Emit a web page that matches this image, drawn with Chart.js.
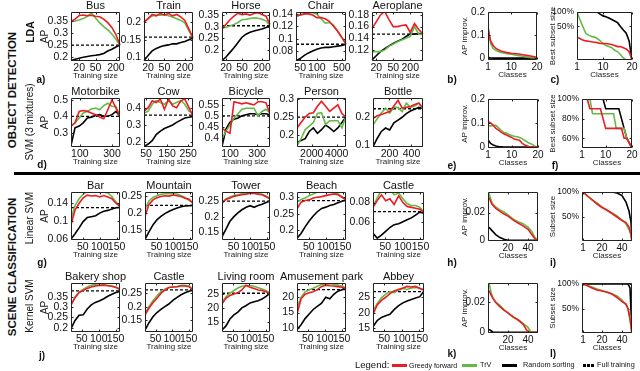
<!DOCTYPE html>
<html><head><meta charset="utf-8"><title>Subset selection results</title>
<script src="https://cdn.jsdelivr.net/npm/chart.js"></script>
<style>
html,body{margin:0;padding:0;background:#fff;}
body{width:640px;height:371px;position:relative;overflow:hidden;font-family:"Liberation Sans",Arial,sans-serif;color:#111;}
canvas{position:absolute;}
.t{position:absolute;white-space:nowrap;line-height:1;transform:translate(-50%,-50%);}
.r{transform:translate(-50%,-50%) rotate(-90deg);}
.lg{position:absolute;white-space:nowrap;line-height:1;transform:translateY(-50%);}
.sw{position:absolute;height:3px;}
</style></head><body>
<script>
// ---------------- DATA ----------------
// Row a) LDA (x = training size, category positions)
const busSizes = [15,17,20,24,30,38,50,65,85,110,150,200,230];
const busXTicks = [20,50,200];
const busYTicks = [0.2,0.25,0.3,0.35];
const busGreedy = [0.35,0.36,0.375,0.377,0.374,0.376,0.372,0.37,0.36,0.345,0.325,0.295,0.25];
const busTrV = [0.35,0.352,0.356,0.362,0.372,0.385,0.365,0.345,0.328,0.315,0.297,0.275,0.25];
const busRandom = [0.185,0.19,0.195,0.199,0.202,0.205,0.207,0.21,0.215,0.225,0.233,0.242,0.25];
const busFull = 0.25;

const trainSizes = [18,20,25,32,40,50,65,85,110,150,200,230,260];
const trainXTicks = [20,50,200];
const trainYTicks = [0.1,0.15,0.2];
const trainGreedy = [0.2,0.21,0.222,0.218,0.225,0.22,0.225,0.218,0.222,0.215,0.205,0.18,0.155];
const trainTrV = [0.2,0.21,0.218,0.22,0.22,0.222,0.218,0.215,0.21,0.205,0.198,0.175,0.155];
const trainRandom = [0.09,0.105,0.118,0.125,0.13,0.133,0.135,0.138,0.138,0.142,0.145,0.15,0.155];
const trainFull = 0.157;

const horseSizes = [18,20,25,32,40,50,65,85,110,150,200,230,260];
const horseXTicks = [20,50,200];
const horseYTicks = [0.2,0.25,0.3,0.35];
const horseGreedy = [0.293,0.31,0.33,0.345,0.358,0.352,0.355,0.35,0.357,0.36,0.352,0.345,0.31];
const horseTrV = [0.293,0.298,0.303,0.31,0.318,0.33,0.332,0.335,0.338,0.336,0.332,0.325,0.305];
const horseRandom = [0.155,0.17,0.19,0.21,0.232,0.255,0.268,0.276,0.282,0.286,0.29,0.297,0.305];
const horseFull = 0.304;

const chairSizes = [40,50,60,70,85,100,130,170,220,290,380,500,620];
const chairXTicks = [50,100,500];
const chairYTicks = [0.08,0.1,0.12,0.14];
const chairGreedy = [0.136,0.138,0.14,0.14,0.138,0.134,0.134,0.132,0.128,0.12,0.112,0.102,0.091];
const chairTrV = [0.136,0.138,0.14,0.142,0.142,0.14,0.132,0.125,0.126,0.122,0.112,0.102,0.091];
const chairRandom = [0.064,0.068,0.073,0.077,0.08,0.083,0.085,0.086,0.086,0.087,0.088,0.089,0.091];
const chairFull = 0.091;

const aeroSizes = [17,20,24,30,38,50,65,85,130,200,235,265,300];
const aeroXTicks = [20,50,200];
const aeroYTicks = [0.12,0.14,0.16,0.18];
const aeroGreedy = [0.157,0.168,0.18,0.186,0.172,0.16,0.16,0.162,0.163,0.15,0.165,0.155,0.147];
const aeroTrV = [0.117,0.117,0.117,0.12,0.126,0.13,0.134,0.137,0.14,0.143,0.16,0.147,0.146];
const aeroRandom = [0.103,0.11,0.117,0.122,0.127,0.131,0.135,0.138,0.143,0.147,0.147,0.148,0.147];
const aeroFull = 0.147;

// Row d) SVM (3 mixtures)
const motoSizes = [45,70,96,121,147,172,198,223,249,274,300,325,350];
const motoXTicks = [100,300];
const motoYTicks = [0.3,0.4,0.5];
const motoGreedy = [0.34,0.36,0.43,0.435,0.43,0.42,0.41,0.395,0.385,0.44,0.5,0.45,0.4];
const motoTrV = [0.34,0.36,0.39,0.42,0.43,0.445,0.45,0.44,0.465,0.48,0.46,0.46,0.4];
const motoRandom = [0.22,0.33,0.34,0.36,0.39,0.395,0.405,0.41,0.4,0.4,0.41,0.43,0.4];
const motoFull = 0.4;

const cowSizes = [40,60,79,98,118,137,157,176,195,215,234,254,273];
const cowXTicks = [50,150,250];
const cowYTicks = [0.2,0.3,0.4];
const cowGreedy = [0.38,0.4,0.44,0.43,0.45,0.39,0.45,0.41,0.4,0.44,0.45,0.4,0.35];
const cowTrV = [0.37,0.38,0.42,0.44,0.43,0.42,0.44,0.42,0.43,0.44,0.42,0.38,0.37];
const cowRandom = [0.176,0.19,0.21,0.245,0.265,0.28,0.29,0.3,0.315,0.328,0.34,0.345,0.35];
const cowFull = 0.357;

const bicycleSizes = [40,70,99,129,159,188,218,248,277,307,337,366,396];
const bicycleXTicks = [100,300];
const bicycleYTicks = [0.4,0.45,0.5,0.55];
const bicycleGreedy = [0.443,0.43,0.42,0.565,0.56,0.555,0.56,0.555,0.55,0.565,0.565,0.56,0.51];
const bicycleTrV = [0.397,0.43,0.458,0.49,0.51,0.53,0.535,0.535,0.535,0.5,0.52,0.53,0.515];
const bicycleRandom = [0.36,0.44,0.47,0.485,0.49,0.5,0.505,0.51,0.51,0.505,0.51,0.51,0.505];
const bicycleFull = 0.5;

const personSizes = [820,1147,1473,1800,2127,2453,2780,3107,3433,3760,4087,4413,4740];
const personXTicks = [2000,4000];
const personYTicks = [0.2,0.25,0.3];
const personGreedy = [0.22,0.235,0.25,0.26,0.262,0.28,0.294,0.28,0.266,0.275,0.284,0.26,0.25];
const personTrV = [0.17,0.19,0.215,0.225,0.235,0.26,0.262,0.23,0.24,0.24,0.24,0.22,0.252];
const personRandom = [0.18,0.185,0.19,0.21,0.22,0.205,0.215,0.228,0.22,0.21,0.22,0.235,0.25];
const personFull = 0.25;

const bottleSizes = [50,88,126,164,202,240,278,315,353,391,429,467,505];
const bottleXTicks = [200,400];
const bottleYTicks = [0.1,0.2];
const bottleGreedy = [0.196,0.205,0.21,0.215,0.22,0.24,0.26,0.232,0.235,0.238,0.245,0.25,0.232];
const bottleTrV = [0.172,0.195,0.215,0.232,0.215,0.235,0.235,0.22,0.25,0.235,0.24,0.25,0.232];
const bottleRandom = [0.096,0.125,0.15,0.162,0.155,0.18,0.19,0.2,0.213,0.222,0.228,0.235,0.232];
const bottleFull = 0.23;

// Row g) Linear SVM
const linearSizes = [15,27,39,51,63,75,88,100,112,124,136,148,160];
const sceneXTicks = [50,100,150];
const barYTicks = [0.06,0.1,0.14];
const barGreedy = [0.092,0.125,0.14,0.152,0.158,0.156,0.157,0.154,0.157,0.154,0.15,0.14,0.133];
const barTrV = [0.105,0.135,0.15,0.16,0.166,0.168,0.166,0.164,0.165,0.163,0.155,0.143,0.133];
const barRandom = [0.06,0.072,0.085,0.099,0.108,0.11,0.112,0.118,0.122,0.124,0.127,0.13,0.131];
const barFull = 0.13;

const mountainYTicks = [0.15,0.2,0.25];
const mountainGreedy = [0.19,0.225,0.238,0.244,0.248,0.25,0.249,0.252,0.25,0.248,0.243,0.24,0.228];
const mountainTrV = [0.21,0.235,0.245,0.25,0.254,0.256,0.257,0.256,0.255,0.25,0.245,0.237,0.228];
const mountainRandom = [0.123,0.145,0.165,0.18,0.19,0.198,0.205,0.21,0.214,0.218,0.22,0.221,0.222];
const mountainFull = 0.222;

const towerYTicks = [0.15,0.2,0.25];
const towerGreedy = [0.243,0.255,0.26,0.265,0.268,0.27,0.272,0.275,0.274,0.272,0.27,0.264,0.256];
const towerTrV = [0.245,0.257,0.263,0.268,0.27,0.273,0.274,0.276,0.276,0.274,0.272,0.266,0.258];
const towerRandom = [0.135,0.16,0.185,0.2,0.212,0.222,0.23,0.235,0.23,0.236,0.24,0.245,0.25];
const towerFull = 0.25;

const beachYTicks = [0.2,0.25,0.3];
const beachGreedy = [0.265,0.285,0.29,0.292,0.298,0.3,0.302,0.305,0.308,0.31,0.308,0.3,0.292];
const beachTrV = [0.285,0.293,0.298,0.305,0.31,0.316,0.318,0.318,0.316,0.314,0.31,0.302,0.293];
const beachRandom = [0.175,0.19,0.21,0.228,0.243,0.256,0.266,0.27,0.275,0.278,0.283,0.288,0.292];
const beachFull = 0.29;

const castleLYTicks = [0.06,0.08];
const castleLGreedy = [0.075,0.082,0.088,0.082,0.084,0.078,0.087,0.08,0.076,0.075,0.074,0.073,0.07];
const castleLTrV = [0.076,0.085,0.093,0.09,0.094,0.088,0.09,0.084,0.079,0.077,0.077,0.075,0.07];
const castleLRandom = [0.048,0.043,0.046,0.05,0.054,0.057,0.058,0.06,0.062,0.064,0.067,0.07,0.069];
const castleLFull = 0.0705;

// Row j) Kernel SVM
const kernelSizes = [18,30,42,54,66,78,90,103,115,127,139,151,163];
const bakeryYTicks = [0.2,0.25,0.3,0.35];
const bakeryGreedy = [0.31,0.345,0.37,0.38,0.39,0.397,0.402,0.404,0.405,0.403,0.4,0.395,0.385];
const bakeryTrV = [0.31,0.348,0.372,0.385,0.397,0.405,0.41,0.412,0.408,0.404,0.4,0.394,0.385];
const bakeryRandom = [0.195,0.235,0.26,0.262,0.29,0.31,0.322,0.33,0.34,0.352,0.362,0.37,0.375];
const bakeryFull = 0.378;

const castleKYTicks = [0.15,0.2,0.25];
const castleKGreedy = [0.168,0.195,0.215,0.232,0.25,0.262,0.272,0.274,0.275,0.278,0.278,0.275,0.263];
const castleKTrV = [0.175,0.2,0.222,0.24,0.256,0.266,0.272,0.274,0.276,0.28,0.28,0.277,0.265];
const castleKRandom = [0.112,0.14,0.162,0.178,0.19,0.2,0.21,0.225,0.235,0.245,0.252,0.258,0.262];
const castleKFull = 0.263;

const livingYTicks = [15,20,25];
const livingGreedy = [21.5,23.5,24.5,25,25.5,26.5,28.2,27.5,27,26.5,26.3,25.8,25.2];
const livingTrV = [22,24,25.3,26.3,27.2,27.8,28,28.1,27.8,27.3,26.8,26.2,25.5];
const livingRandom = [12,13.5,16,17.5,18.5,20,20.8,21.8,22.2,22.6,23.2,24.2,25.3];
const livingFull = 25.3;

const amuseYTicks = [10,15,20];
const amuseGreedy = [14.5,19.5,21,21.5,21.8,22.5,23.5,24,23.8,23.7,23.5,23.3,23];
const amuseTrV = [16.5,20,21.8,22.5,23,23.6,24.2,24.4,24.5,24.3,24,23.6,23];
const amuseRandom = [9.3,11,13,14.5,16,17,18,20,19.5,21,22,22.5,23.2];
const amuseFull = 22.5;

const abbeyYTicks = [15,20,25];
const abbeyGreedy = [19.5,22.5,24,25,26.2,27,27.5,28,28.5,28.3,28.5,27.8,27.3];
const abbeyTrV = [20.5,23,24.8,26,26.8,26.5,27.3,27.8,27.5,28,28.2,28,27.5];
const abbeyRandom = [15.5,17.5,18.5,19,19.5,21,22.2,23.2,23.8,24.3,24.8,25.2,27];
const abbeyFull = 26.8;

// Right panels: x = classes
const classes20 = [1,2,3,4,5,6,7,8,9,10,11,12,13,14,15,16,17,18,19,20];
const classXTicks20 = [1,10,20];
const improvYTicks = [0,0.1,0.2];
const bGreedy = [0.13,0.075,0.055,0.043,0.036,0.031,0.028,0.025,0.023,0.021,0.02,0.019,0.018,0.016,0.014,0.012,0.01,0.008,0.006,0.004];
const bTrV = [0.14,0.065,0.042,0.034,0.029,0.025,0.022,0.02,0.018,0.017,0.015,0.013,0.011,0.009,0.007,0.005,0.003,0.002,0.001,0];
const bRandom = [0.004,0.001,0,0,0,0,0,0,0,0,0,0,0,0,0,0,0,0,0,0];
const cYTicks = [0.5,1];
const cGreedy = [0.3,0.28,0.26,0.25,0.245,0.24,0.235,0.23,0.22,0.22,0.22,0.215,0.21,0.2,0.19,0.19,0.18,0.17,0.15,0.1];
const cTrV = [1,0.7,0.5,0.36,0.33,0.31,0.3,0.28,0.25,0.22,0.2,0.19,0.18,0.16,0.15,0.13,0.11,0.1,0.1,0.1];
const cRandom = [1,1,1,1,1,1,1,1,0.9,0.83,0.8,0.75,0.7,0.65,0.6,0.5,0.42,0.36,0.25,0.1];
const eGreedy = [0.105,0.1,0.09,0.078,0.07,0.062,0.055,0.05,0.045,0.04,0.033,0.03,0.028,0.015,0.008,0.004,0,0,0,0];
const eTrV = [0.09,0.088,0.09,0.09,0.08,0.07,0.06,0.058,0.052,0.048,0.045,0.043,0.04,0.035,0.028,0.02,0.015,0.01,0.002,0];
const eRandom = [0.03,0.015,0.008,0.004,0.002,0.001,0,0,0,0,0,0,0,0,0,0,0,0,0,0];
const fYTicks = [0.6,0.8,1];
const fGreedy = [1,1,1,0.9,0.9,0.9,0.9,0.9,0.8,0.7,0.7,0.7,0.7,0.7,0.7,0.7,0.6,0.6,0.55,0.5];
const fTrV = [1,1,1,1,0.85,0.85,0.85,0.85,0.85,0.85,0.85,0.85,0.85,0.7,0.7,0.7,0.7,0.6,0.55,0.5];
const fRandom = [1,1,1,1,1,1,1,1,1,0.9,0.9,0.9,0.9,0.9,0.9,0.8,0.7,0.6,0.55,0.5];

const sceneClassXTicks = [20,40];
const sceneClassXTicks1 = [1,20,40];
const sceneImprovYTicks = [0,0.02];
const subsetYTicks = [0.5,1];
const hClasses = [1,4,8,12,16,20,25,30,35,40,44,47,50];
const hGreedy = [0.031,0.026,0.023,0.021,0.019,0.0175,0.0148,0.0125,0.0105,0.008,0.004,0.001,0];
const hTrV = [0.034,0.027,0.024,0.022,0.0205,0.0185,0.0155,0.0135,0.012,0.0095,0.006,0.002,0];
const hRandom = [0.0095,0.007,0.004,0.002,0.0008,0,0,0,0,0,0,0,0];
const iClasses = [1,5,10,15,20,25,30,35,40,44,47,49,50];
const iGreedy = [1,0.93,0.85,0.76,0.69,0.64,0.57,0.5,0.43,0.39,0.3,0.15,0];
const iTrV = [1,0.92,0.84,0.78,0.7,0.63,0.58,0.52,0.44,0.36,0.25,0.15,0];
const iRandom = [1,1,1,1,1,1,1,0.98,0.93,0.8,0.62,0.4,0];
const kClasses = [1,3,5,8,12,16,20,25,30,35,40,43,50];
const kGreedy = [0.028,0.025,0.0225,0.0198,0.017,0.0148,0.013,0.0105,0.0082,0.0055,0,0,0];
const kTrV = [0.033,0.027,0.023,0.02,0.018,0.015,0.0128,0.01,0.0085,0.006,0.0033,0,0];
const kRandom = [0.002,0.001,0,0,0,0,0,0,0,0,0,0,0];
const lClasses = [1,5,10,15,20,25,30,35,40,44,46,48,50];
const lGreedy = [1,0.97,0.92,0.88,0.86,0.84,0.8,0.73,0.65,0.6,0.5,0.3,0];
const lTrV = [1,0.97,0.94,0.9,0.87,0.83,0.8,0.76,0.68,0.58,0.52,0.32,0];
const lRandom = [1,1,1,1,1,1,1,1,1,1,1,0.92,0];

// ---------------- LAYOUT / STYLE ----------------
const FONT = '"Liberation Sans", Arial, sans-serif';
const RED = '#ec1c24', GREEN = '#62bb46', BLACK = '#000000';
Chart.defaults.font.family = FONT;

const panels = [
  // row a
  {title:'Bus', l:71,t:12,w:49,h:49,yW:32,yTitle:'AP',yTitleSize:10, cat:true, x:busSizes, xTicks:busXTicks, y:[0.183,0.39], yTicks:busYTicks, s:[busGreedy,busTrV,busRandom], full:busFull},
  {title:'Train', l:144,t:12,w:49,h:49,yW:30, cat:true, x:trainSizes, xTicks:trainXTicks, y:[0.089,0.229], yTicks:trainYTicks, s:[trainGreedy,trainTrV,trainRandom], full:trainFull},
  {title:'Horse', l:222,t:12,w:48,h:49,yW:30, cat:true, x:horseSizes, xTicks:horseXTicks, y:[0.153,0.363], yTicks:horseYTicks, s:[horseGreedy,horseTrV,horseRandom], full:horseFull},
  {title:'Chair', l:296,t:12,w:50,h:49,yW:30, cat:true, x:chairSizes, xTicks:chairXTicks, y:[0.064,0.143], yTicks:chairYTicks, s:[chairGreedy,chairTrV,chairRandom], full:chairFull},
  {title:'Aeroplane', l:372,t:12,w:51,h:49,yW:30, cat:true, x:aeroSizes, xTicks:aeroXTicks, y:[0.101,0.185], yTicks:aeroYTicks, s:[aeroGreedy,aeroTrV,aeroRandom], full:aeroFull},
  // row d
  {title:'Motorbike', l:71,t:98,w:49,h:49,yW:32,yTitle:'AP',yTitleSize:10, x:motoSizes, xr:[45,350], xTicks:motoXTicks, y:[0.212,0.512], yTicks:motoYTicks, s:[motoGreedy,motoTrV,motoRandom], full:motoFull},
  {title:'Cow', l:144,t:98,w:49,h:49,yW:30, x:cowSizes, xr:[40,273], xTicks:cowXTicks, y:[0.173,0.456], yTicks:cowYTicks, s:[cowGreedy,cowTrV,cowRandom], full:cowFull},
  {title:'Bicycle', l:222,t:98,w:48,h:49,yW:30, x:bicycleSizes, xr:[40,396], xTicks:bicycleXTicks, y:[0.357,0.582], yTicks:bicycleYTicks, s:[bicycleGreedy,bicycleTrV,bicycleRandom], full:bicycleFull},
  {title:'Person', l:297,t:98,w:49,h:49,yW:30, x:personSizes, xr:[820,4740], xTicks:personXTicks, y:[0.167,0.303], yTicks:personYTicks, s:[personGreedy,personTrV,personRandom], full:personFull},
  {title:'Bottle', l:373,t:98,w:50,h:49,yW:30, x:bottleSizes, xr:[50,505], xTicks:bottleXTicks, y:[0.095,0.268], yTicks:bottleYTicks, s:[bottleGreedy,bottleTrV,bottleRandom], full:bottleFull},
  // row g
  {title:'Bar', l:71,t:192,w:49,h:48,yW:32,yTitle:'AP',yTitleSize:10, x:linearSizes, xr:[15,160], xTicks:sceneXTicks, y:[0.058,0.165], yTicks:barYTicks, s:[barGreedy,barTrV,barRandom], full:barFull},
  {title:'Mountain', l:145,t:192,w:48,h:48,yW:30, x:linearSizes, xr:[15,160], xTicks:sceneXTicks, y:[0.121,0.261], yTicks:mountainYTicks, s:[mountainGreedy,mountainTrV,mountainRandom], full:mountainFull},
  {title:'Tower', l:222,t:192,w:48,h:48,yW:30, x:linearSizes, xr:[15,160], xTicks:sceneXTicks, y:[0.125,0.279], yTicks:towerYTicks, s:[towerGreedy,towerTrV,towerRandom], full:towerFull},
  {title:'Beach', l:297,t:192,w:49,h:48,yW:30, x:linearSizes, xr:[15,160], xTicks:sceneXTicks, y:[0.17,0.316], yTicks:beachYTicks, s:[beachGreedy,beachTrV,beachRandom], full:beachFull},
  {title:'Castle', l:373,t:192,w:51,h:48,yW:30, x:linearSizes, xr:[15,160], xTicks:sceneXTicks, y:[0.041,0.091], yTicks:castleLYTicks, s:[castleLGreedy,castleLTrV,castleLRandom], full:castleLFull},
  // row j
  {title:'Bakery shop', l:71,t:283,w:49,h:49,yW:32,yTitle:'AP',yTitleSize:10, x:kernelSizes, xr:[18,163], xTicks:sceneXTicks, y:[0.179,0.416], yTicks:bakeryYTicks, s:[bakeryGreedy,bakeryTrV,bakeryRandom], full:bakeryFull},
  {title:'Castle', l:145,t:283,w:48,h:49,yW:30, x:kernelSizes, xr:[18,163], xTicks:sceneXTicks, y:[0.105,0.289], yTicks:castleKYTicks, s:[castleKGreedy,castleKTrV,castleKRandom], full:castleKFull},
  {title:'Living room', l:222,t:283,w:48,h:49,yW:30, x:kernelSizes, xr:[18,163], xTicks:sceneXTicks, y:[11.3,29], yTicks:livingYTicks, s:[livingGreedy,livingTrV,livingRandom], full:livingFull},
  {title:'Amusement park', l:297,t:283,w:49,h:49,yW:30, x:kernelSizes, xr:[18,163], xTicks:sceneXTicks, y:[8.6,24.7], yTicks:amuseYTicks, s:[amuseGreedy,amuseTrV,amuseRandom], full:amuseFull},
  {title:'Abbey', l:373,t:283,w:51,h:49,yW:30, x:kernelSizes, xr:[18,163], xTicks:sceneXTicks, y:[13.8,29.6], yTicks:abbeyYTicks, s:[abbeyGreedy,abbeyTrV,abbeyRandom], full:abbeyFull},
  // right panels
  {l:488,t:12,w:49,h:48,yW:28,yTitle:'AP improv.',xTitle:'Classes',tick:10, x:classes20, xr:[1,20], xTicks:classXTicks20, y:[-0.008,0.2], yTicks:improvYTicks, s:[bGreedy,bTrV,bRandom]},
  {l:577,t:12,w:55,h:48,yW:29,yTitle:'Best subset size',xTitle:'Classes',tick:10,yTick:8.5,pct:true,log:true, x:classes20, xr:[1,20], xTicks:classXTicks20, y:[0.1,1], yTicks:cYTicks, s:[cGreedy,cTrV,cRandom]},
  {l:488,t:99,w:50,h:49,yW:28,yTitle:'AP improv.',xTitle:'Classes',tick:10, x:classes20, xr:[1,20], xTicks:classXTicks20, y:[-0.004,0.2], yTicks:improvYTicks, s:[eGreedy,eTrV,eRandom]},
  {l:582,t:99,w:50,h:49,yW:34,yTitle:'Best subset size',xTitle:'Classes',tick:10,yTick:8.5,pct:true, x:classes20, xr:[1,20], xTicks:classXTicks20, y:[0.5,1], yTicks:fYTicks, s:[fGreedy,fTrV,fRandom]},
  {l:488,t:192,w:50,h:49,yW:28,yTitle:'AP improv.',xTitle:'Classes',tick:10, x:hClasses, xr:[0,50], xTicks:sceneClassXTicks, y:[-0.0005,0.035], yTicks:sceneImprovYTicks, s:[hGreedy,hTrV,hRandom]},
  {l:582,t:192,w:50,h:49,yW:34,yTitle:'Subset size',xTitle:'Classes',tick:10,yTick:8.5,pct:true, x:iClasses, xr:[0,50], xTicks:sceneClassXTicks1, y:[0.02,1], yTicks:subsetYTicks, s:[iGreedy,iTrV,iRandom]},
  {l:488,t:283,w:50,h:50,yW:28,yTitle:'AP improv.',xTitle:'Classes',tick:10, x:kClasses, xr:[0,50], xTicks:sceneClassXTicks, y:[-0.0005,0.033], yTicks:sceneImprovYTicks, s:[kGreedy,kTrV,kRandom]},
  {l:582,t:283,w:50,h:50,yW:34,yTitle:'Subset size',xTitle:'Classes',tick:10,yTick:8.5,pct:true, x:lClasses, xr:[0,50], xTicks:sceneClassXTicks1, y:[0.02,1.02], yTicks:subsetYTicks, s:[lGreedy,lTrV,lRandom]}
];

const framePlugin = {
  id: 'frame',
  afterDatasetsDraw(chart) {
    const {ctx, chartArea: a, scales} = chart;
    const L = Math.round(a.left) + 0.5, T = Math.round(a.top) + 0.5;
    const R = Math.round(a.right) - 0.5, B = Math.round(a.bottom) - 0.5;
    ctx.save();
    ctx.strokeStyle = '#222';
    ctx.lineWidth = 1;
    ctx.beginPath();
    ctx.rect(L, T, R - L, B - T);
    scales.x.ticks.forEach((tk, i) => {
      const px = Math.round(scales.x.getPixelForTick(i)) + 0.5;
      ctx.moveTo(px, B); ctx.lineTo(px, B - 2);
      ctx.moveTo(px, T); ctx.lineTo(px, T + 2);
    });
    scales.y.ticks.forEach((tk, i) => {
      const py = Math.round(scales.y.getPixelForTick(i)) + 0.5;
      ctx.moveTo(L, py); ctx.lineTo(L + 2, py);
      ctx.moveTo(R, py); ctx.lineTo(R - 2, py);
    });
    ctx.stroke();
    ctx.restore();
  }
};

function build(p) {
  const topH = p.title ? 12 : 6, xH = 20;
  const padR = p.title ? p.yW : 10;  // symmetric canvas so the title is centred over the plot box
  const W = p.yW + p.w + padR, H = topH + p.h + xH;
  const cv = document.createElement('canvas');
  cv.width = W; cv.height = H;
  Object.assign(cv.style, {left: (p.l - p.yW) + 'px', top: (p.t - topH) + 'px', width: W + 'px', height: H + 'px'});
  document.body.appendChild(cv);
  const cat = !!p.cat;
  const pts = ys => cat ? ys.slice() : p.x.map((x, i) => ({x: x, y: ys[i]}));
  const line = (ys, color) => ({data: pts(ys), borderColor: color, borderWidth: 1.6, pointRadius: 0, tension: 0, fill: false});
  const datasets = [line(p.s[0], RED), line(p.s[1], GREEN), line(p.s[2], BLACK)];
  if (p.full !== undefined) {
    const x0 = cat ? String(p.x[0]) : p.xr[0];
    const x1 = cat ? String(p.x[p.x.length - 1]) : p.xr[1];
    datasets.push({data: [{x: x0, y: p.full}, {x: x1, y: p.full}], borderColor: BLACK, borderWidth: 1.3, borderDash: [3, 2], pointRadius: 0, fill: false});
  }
  const tickSize = p.tick || 10.5;
  const xScale = {
    type: cat ? 'category' : 'linear',
    offset: false,
    grid: {display: false, drawTicks: false},
    border: {display: false},
    ticks: {
      autoSkip: false, maxRotation: 0, minRotation: 0, padding: 1, color: '#111',
      font: {family: FONT, size: tickSize},
      callback: function (v) { return cat ? this.getLabelForValue(v) : String(v); }
    },
    afterBuildTicks: s => { s.ticks = p.xTicks.map(t => ({value: cat ? p.x.indexOf(t) : t})); },
    afterFit: s => { s.height = xH; s.paddingLeft = 0; s.paddingRight = 0; },
    title: {display: true, text: p.xTitle || 'Training size', padding: 0, color: '#222', font: {family: FONT, size: 8}}
  };
  if (!cat) { xScale.min = p.xr[0]; xScale.max = p.xr[1]; }
  const yScale = {
    type: p.log ? 'logarithmic' : 'linear',
    min: p.y[0], max: p.y[1],
    grid: {display: false, drawTicks: false},
    border: {display: false},
    ticks: {
      autoSkip: false, padding: 3, color: '#111',
      font: {family: FONT, size: p.yTick || tickSize},
      callback: v => p.pct ? Math.round(v * 100) + '%' : String(v)
    },
    afterBuildTicks: s => { s.ticks = p.yTicks.map(v => ({value: v})); },
    afterFit: s => { s.width = p.yW; s.paddingTop = 0; s.paddingBottom = 0; },
    title: {display: !!p.yTitle, text: p.yTitle || '', padding: 0, color: '#222', font: {family: FONT, size: p.yTitleSize || 8}}
  };
  // empty right-hand spacer axis (keeps the full-width title centred over the plot box)
  const spacer = {
    type: 'linear', position: 'right', min: 0, max: 1,
    grid: {display: false, drawTicks: false}, border: {display: false},
    ticks: {display: false},
    afterFit: s => { s.width = padR; s.paddingTop = 0; s.paddingBottom = 0; }
  };
  new Chart(cv, {
    type: 'line',
    data: {labels: cat ? p.x.map(String) : undefined, datasets: datasets},
    options: {
      responsive: false, animation: false, devicePixelRatio: 1,
      layout: {padding: {left: 0, top: p.title ? 0 : topH, right: 0, bottom: 0}},
      plugins: {
        legend: {display: false}, tooltip: {enabled: false},
        title: {display: !!p.title, text: p.title || '', padding: 0, color: '#111', font: {family: FONT, size: 11, weight: 'normal', lineHeight: 12 / 11}}
      },
      scales: {x: xScale, y: yScale, yr: spacer}
    },
    plugins: [framePlugin]
  });
}
panels.forEach(build);

// ---------------- TEXT LABELS ----------------
const labels = [
  ['OBJECT DETECTION', 12.5, 90, 11.5, true, true],
  ['SCENE CLASSIFICATION', 12.5, 267, 11.5, true, true],
  ['LDA', 30, 32, 10.5, true, true],
  ['SVM (3 mixtures)', 30, 122, 10, false, true],
  ['Linear SVM', 30, 218, 10, false, true],
  ['Kernel SVM', 30, 306, 10, false, true],
  ['a)', 41, 80, 10, true, false], ['d)', 42, 165, 10, true, false],
  ['g)', 42, 263, 10, true, false], ['j)', 42, 356, 10, true, false],
  ['b)', 452, 80, 10, true, false], ['c)', 555, 80, 10, true, false],
  ['e)', 452, 166, 10, true, false], ['f)', 555, 166, 10, true, false],
  ['h)', 452, 263, 10, true, false], ['i)', 553, 263, 10, true, false],
  ['k)', 452, 354, 10, true, false], ['l)', 553, 354, 10, true, false]
];
labels.forEach(([txt, cx, cy, size, bold, rot]) => {
  const d = document.createElement('div');
  d.className = 't' + (rot ? ' r' : '');
  d.textContent = txt;
  Object.assign(d.style, {left: cx + 'px', top: cy + 'px', fontSize: size + 'px', fontWeight: bold ? 'bold' : 'normal'});
  document.body.appendChild(d);
});

// separator
const sep = document.createElement('div');
Object.assign(sep.style, {position: 'absolute', left: '14px', top: '172px', width: '626px', height: '3px', background: '#000'});
document.body.appendChild(sep);

// legend
const legendItems = [
  ['text', 'Legend:', 355, 9.5],
  ['swatch', RED, 392, 15],
  ['text', 'Greedy forward', 409, 7],
  ['swatch', GREEN, 462, 15],
  ['text', 'TrV', 480, 7.3],
  ['swatch', BLACK, 502, 15],
  ['text', 'Random sorting', 523, 7.3],
  ['dots', BLACK, 583, 0],
  ['text', 'Full training', 597, 7.3]
];
const LY = 365;
legendItems.forEach(([kind, v, x, s]) => {
  if (kind === 'text') {
    const d = document.createElement('div');
    d.className = 'lg'; d.textContent = v;
    Object.assign(d.style, {left: x + 'px', top: LY + 'px', fontSize: s + 'px'});
    document.body.appendChild(d);
  } else if (kind === 'swatch') {
    const d = document.createElement('div');
    d.className = 'sw';
    Object.assign(d.style, {left: x + 'px', top: (LY - 1.5) + 'px', width: s + 'px', background: v});
    document.body.appendChild(d);
  } else {
    [0, 4, 8].forEach(o => {
      const d = document.createElement('div');
      Object.assign(d.style, {position: 'absolute', left: (x + o) + 'px', top: (LY - 1.5) + 'px', width: '3px', height: '3px', background: v});
      document.body.appendChild(d);
    });
  }
});
</script>
</body></html>
